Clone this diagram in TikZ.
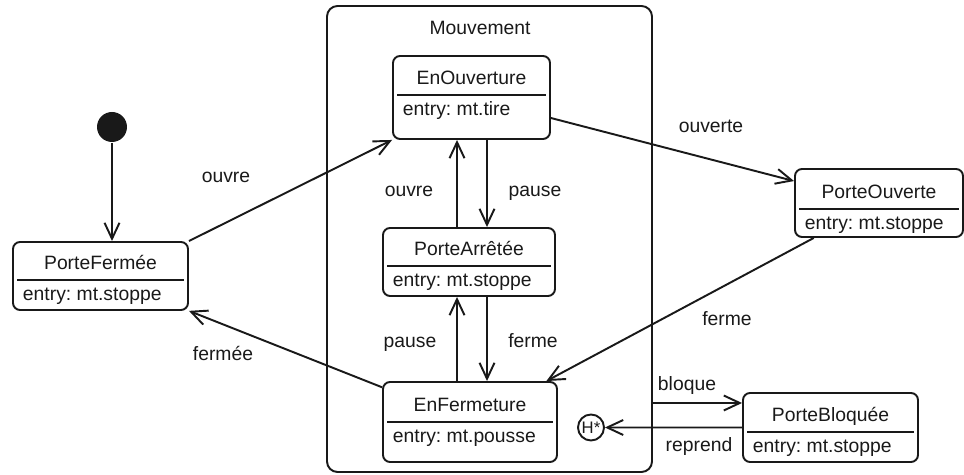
\documentclass[tikz,border=0pt]{standalone}
\usepackage{fontspec}
\setmainfont{Liberation Sans}
\frenchspacing
\usetikzlibrary{positioning, fit, arrows.meta}
\tikzset{
	texte/.style= {
		anchor=base,
		inner sep=0
	},
	etat/.style= {
		rectangle,
		draw,
		rounded corners=4pt,
		inner sep=0
	},
	composite/.style= {
		rectangle,
		draw,
		rounded corners=6pt,
		inner sep=0
	},
	separateur/.style={shorten <=0pt, shorten >=0pt},
	fleche/.style={-{Straight Barb[length=0.32cm, width=0.3cm]}},
	etatinitial/.style={circle, fill, inner sep=0, minimum size=0.6cm},
	historique/.style={circle, draw, inner sep=0, minimum size=0.52cm, font=\fontsize{9.5}{10}\selectfont},
}
% etat: nom, gauche, haut, droite, bas, ligne, titre, action
\newcommand{\etatuml}[8]{%
	\node (#1) [etat, fit={(#2,#3) (#4,#5)}] {};
	\draw[separateur] (#2+4,#6) -- (#4-4,#6);
	\node (#1-titre) [texte] at ({(#2+#4)/2},#6-10) {#7};
	\node (#1-action) [texte, anchor=base west] at (#2+9,#6+21) {#8};
}

\begin{document}
\begin{tikzpicture}[x=0.02cm, y=-0.02cm, line width=1.1pt, color=black!90, font=\fontsize{11}{13}\selectfont]
	\useasboundingbox (0,0) rectangle (964,475);
	
	\node (mouvement) [composite, fit={(327,6) (652,472)}] {};
	\node (mouvement-titre) [texte] at (480,35) {Mouvement};
	
	\etatuml{fermee}{13}{242}{188}{310}{280}{PorteFermée}{entry: mt.stoppe}
	\etatuml{ouverture}{393}{56}{550}{139}{95}{EnOuverture}{entry: mt.tire}
	\etatuml{arretee}{383}{228}{555}{296}{266}{PorteArrêtée}{entry: mt.stoppe}
	\etatuml{fermeture}{383}{382}{557}{462}{422}{EnFermeture}{entry: mt.pousse}
	\etatuml{ouverte}{795}{169}{963}{237}{209}{PorteOuverte}{entry: mt.stoppe}
	\etatuml{bloquee}{743}{393}{918}{462}{432}{PorteBloquée}{entry: mt.stoppe}
	
	\node (init) [etatinitial] at (112,127) {};
	\node (hist) [historique] at (591,427.5) {H*};
	
	\draw[fleche] (init) -- (init |- fermee.north);
	\draw[fleche] (fermee.north east) -- (ouverture.south west);
	\draw[fleche] (ouverture) -- (ouverte);
	\draw[fleche] (ouverte) -- (fermeture);
	\draw[fleche] (fermeture) -- (fermee);
	
	\draw[fleche] (arretee.north -| 457,0) -- (ouverture.south -| 457,0);
	\draw[fleche] (ouverture.south -| 487,0) -- (arretee.north -| 487,0);
	\draw[fleche] (fermeture.north -| 457,0) -- (arretee.south -| 457,0);
	\draw[fleche] (arretee.south -| 487,0) -- (fermeture.north -| 487,0);
	
	\draw[fleche] (mouvement.east |- 0,403) -- (bloquee.west |- 0,403);
	\draw[fleche] (bloquee) -- (hist);
	
	% etiquettes des transitions
	\node (l-ouvre) [texte] at (226,183) {ouvre};
	\node (l-fermee) [texte] at (223,361) {fermée};
	\node (l-ouverte) [texte] at (711,133) {ouverte};
	\node (l-ferme) [texte] at (727,326) {ferme};
	\node (l-ouvre2) [texte] at (409,197) {ouvre};
	\node (l-pause) [texte] at (535,197) {pause};
	\node (l-pause2) [texte] at (410,348) {pause};
	\node (l-ferme2) [texte] at (533,348) {ferme};
	\node (l-bloque) [texte] at (687,391) {bloque};
	\node (l-reprend) [texte] at (699,452) {reprend};
	
\end{tikzpicture}
\end{document}
